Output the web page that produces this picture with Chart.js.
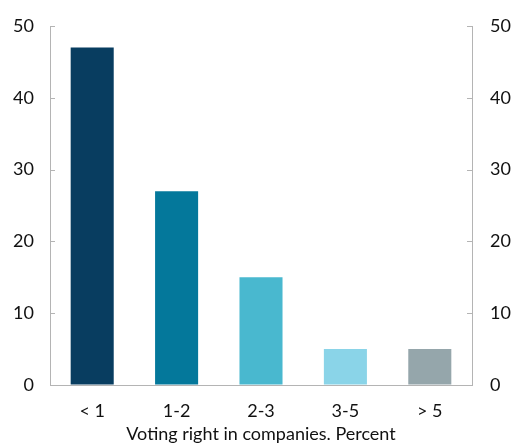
<!DOCTYPE html>
<html>
<head>
<meta charset="utf-8">
<script src="https://cdn.jsdelivr.net/npm/chart.js@4/dist/chart.umd.min.js"></script>
<style>
  html, body { margin: 0; padding: 0; background: #fff; }
  #wrap { width: 513px; height: 445px; }
</style>
</head>
<body>
<div id="wrap"><canvas id="chart"></canvas></div>
<script>
'use strict';

// voting right buckets (percent) and share in each
const categories = ['< 1', '1-2', '2-3', '3-5', '> 5'];
const shares = [47, 27, 15, 5, 5];
const barColors = ['#083d60', '#04789b', '#49b8cf', '#8ad4e8', '#95a6ab'];
const axisTitle = 'Voting right in companies. Percent';

const FONT = 'Lato, "Open Sans", sans-serif';
const AXIS_GREY = '#b4b4b4';

// short tick marks pointing into the plot on both value axes
const innerTicks = {
  id: 'innerTicks',
  afterDraw(chart) {
    const ctx = chart.ctx;
    ctx.save();
    ctx.strokeStyle = AXIS_GREY;
    ctx.lineWidth = 1;
    ['y', 'y2'].forEach(id => {
      const sc = chart.scales[id];
      const x = id === 'y' ? sc.right : sc.left;
      const dir = id === 'y' ? 1 : -1;
      sc.ticks.forEach((t, i) => {
        const py = Math.round(sc.getPixelForTick(i)) + 0.5;
        ctx.beginPath();
        ctx.moveTo(x, py);
        ctx.lineTo(x + dir * 5, py);
        ctx.stroke();
      });
    });
    ctx.restore();
  }
};

const valueAxis = (pos, width, pad) => ({
  position: pos,
  min: 0, max: 50,
  afterFit: s => { s.width = width; s.paddingTop = 0; s.paddingBottom = 0; },
  grid: { display: true, drawOnChartArea: false, drawTicks: false },
  border: { display: true, color: AXIS_GREY, width: 1 },
  ticks: { stepSize: 10, padding: pad, color: '#111', font: { family: FONT, size: 18 } }
});

new Chart(document.getElementById('chart'), {
  type: 'bar',
  data: {
    labels: categories,
    datasets: [{ data: shares, backgroundColor: barColors, categoryPercentage: 1, barPercentage: 0.51 }]
  },
  options: {
    responsive: true, maintainAspectRatio: false, animation: false,
    layout: { padding: { top: 26, left: 0, right: 0, bottom: 0 } },
    plugins: { legend: { display: false }, tooltip: { enabled: false } },
    scales: {
      x: {
        afterFit: s => { s.height = 60; },
        grid: { display: true, drawOnChartArea: false, drawTicks: false },
        border: { display: true, color: AXIS_GREY, width: 1 },
        ticks: { padding: 15, color: '#111', font: { family: FONT, size: 18 } },
        title: { display: true, text: axisTitle, color: '#111', padding: { top: 0, bottom: 0 }, font: { family: FONT, size: 18 } }
      },
      y: valueAxis('left', 50, 16),
      y2: valueAxis('right', 41, 18)
    }
  },
  plugins: [innerTicks]
});
</script>
</body>
</html>
